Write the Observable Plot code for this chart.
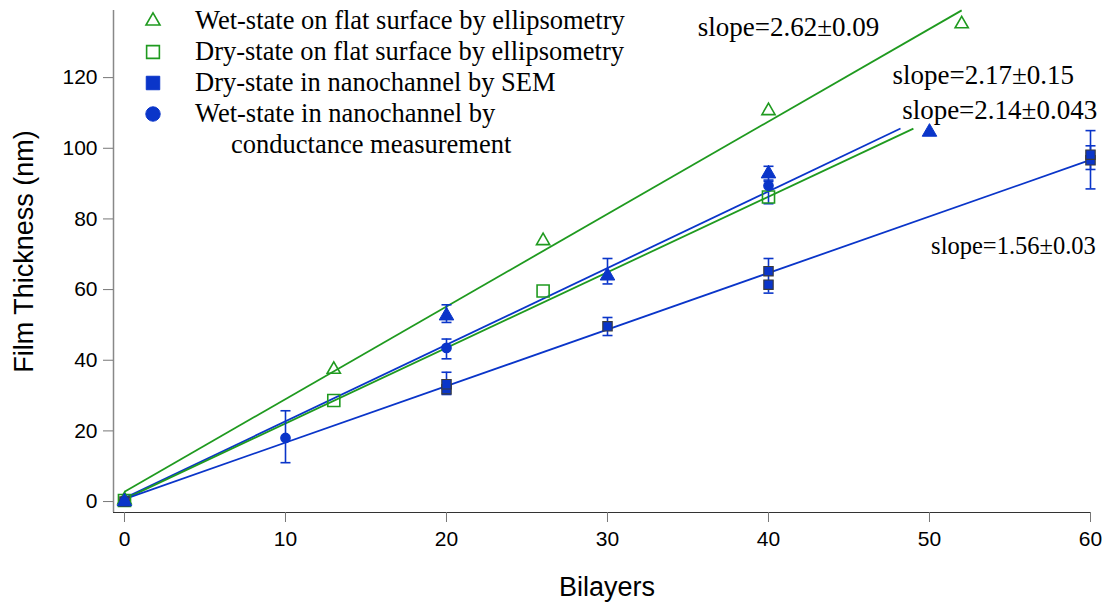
<!DOCTYPE html>
<html><head><meta charset="utf-8">
<script src="https://cdn.jsdelivr.net/npm/d3@7"></script>
<script src="https://cdn.jsdelivr.net/npm/@observablehq/plot@0.6"></script>
<style>body{margin:0;background:#fff} #chart{width:1116px;height:605px}</style>
</head><body><div id="chart"></div>
<script>
// ---- data ----
const xTicks = [0, 10, 20, 30, 40, 50, 60];
const yTicks = [0, 20, 40, 60, 80, 100, 120];

// Wet-state on flat surface by ellipsometry (open green triangles)
const wetFlatX = [0, 13, 26, 40, 52];
const wetFlatY = [0.5, 37.4, 73.8, 110.6, 135.2];
// Dry-state on flat surface by ellipsometry (open green squares)
const dryFlatX = [0, 13, 26, 40];
const dryFlatY = [0.3, 28.6, 59.6, 86.2];
// Dry-state in nanochannel by SEM (filled blue squares)
const semX = [0, 20, 20, 30, 40, 40, 60, 60];
const semY = [0, 31.8, 33.2, 49.6, 65.2, 61.4, 96.6, 98.2];
const semErrX = [20, 30, 40, 60, 60];
const semErrLo = [30.3, 47.0, 59.0, 88.5, 94.0];
const semErrHi = [36.6, 52.1, 68.8, 105.0, 100.7];
// Wet-state in nanochannel by conductance measurement (filled blue circles)
const wetNanoX = [10, 20, 40];
const wetNanoY = [18.0, 43.5, 89.4];
const wetNanoErrLo = [11.0, 40.4, 84.3];
const wetNanoErrHi = [25.7, 46.0, 91.0];
// Wet-state in nanochannel (filled blue triangles)
const wetNanoTriX = [0, 20, 30, 40, 50];
const wetNanoTriY = [0, 52.6, 63.9, 92.8, 104.6];
const wetNanoTriErrX = [20, 30, 40];
const wetNanoTriErrLo = [50.7, 61.6, 90.6];
const wetNanoTriErrHi = [55.7, 68.8, 94.9];

// Linear fits
const fitLabels = ["slope=2.62±0.09", "slope=2.17±0.15", "slope=2.14±0.043", "slope=1.56±0.03"];
const fitSlopes = [2.62, 2.17, 2.14, 1.60];
const fitIntercepts = [2.8, 1.0, 0.7, 0.7];
const fitXEnd = [52, 48.2, 49, 60];
const fitSeries = ["green", "blue", "green", "blue"];
// annotation anchor (data coords, text start / baseline)
const labelX = [35.6, 47.7, 48.3, 50.1];
const labelY = [131.9, 118.3, 108.4, 70.2];

const legendLabels = [
  "Wet-state on flat surface by ellipsometry",
  "Dry-state on flat surface by ellipsometry",
  "Dry-state in nanochannel by SEM",
  "Wet-state in nanochannel by",
  "conductance measurement"
];

// ---- build ----
const GREEN = "#1f9a1f", BLUE = "#0a35c9";
const SERIF = "'Liberation Serif', 'Times New Roman', serif";
const colorOf = s => s === "green" ? GREEN : BLUE;
const pts = (xs, ys) => xs.map((x, i) => ({x, y: ys[i]}));
const errs = (xs, lo, hi) => xs.map((x, i) => ({x, lo: lo[i], hi: hi[i]}));
const fitSegs = fitSlopes.map((s, i) => ({
  x1: 0, y1: fitIntercepts[i], x2: fitXEnd[i], y2: fitIntercepts[i] + s * fitXEnd[i], color: colorOf(fitSeries[i])
}));
const annots = fitLabels.map((t, i) => ({text: t, x: labelX[i], y: labelY[i]}));
const allErr = [...errs(semErrX, semErrLo, semErrHi), ...errs(wetNanoX, wetNanoErrLo, wetNanoErrHi), ...errs(wetNanoTriErrX, wetNanoTriErrLo, wetNanoTriErrHi)];

const hline = {draw(ctx, size) { const r = Math.sqrt(size / Math.PI); ctx.moveTo(-r, 0); ctx.lineTo(r, 0); }};

const X0 = -0.683, Y0 = -3.1, YTOP = 139;

const chart = Plot.plot({
  width: 1116, height: 605,
  marginLeft: 113, marginRight: 26, marginTop: 10, marginBottom: 93,
  x: {domain: [X0, 60]},
  y: {domain: [Y0, YTOP]},
  color: {type: "identity"},
  style: {fontFamily: "'Liberation Sans', Arial, sans-serif", background: "#fff", color: "#000"},
  marks: [
    Plot.ruleX([X0], {y1: Y0, y2: YTOP, stroke: "#888", strokeWidth: 1.5}),
    Plot.ruleY([Y0], {x1: X0, x2: 60, stroke: "#333", strokeWidth: 1.2}),
    Plot.axisX({ticks: xTicks, tickSize: 10, tickPadding: 9, fontSize: 21, stroke: "#777", label: null, tickFormat: d => d}),
    Plot.axisY({ticks: yTicks, tickSize: 10, tickPadding: 6, fontSize: 21, stroke: "#777", label: null, tickFormat: d => d}),
    Plot.text(["Bilayers"], {frameAnchor: "bottom", dx: 5, dy: 83, lineAnchor: "bottom", fontSize: 27, fill: "#000"}),
    Plot.text(["Film Thickness (nm)"], {frameAnchor: "left", dx: -89, dy: -10, rotate: -90, textAnchor: "middle", lineAnchor: "middle", fontSize: 27, fill: "#000"}),
    Plot.link(fitSegs, {x1: "x1", y1: "y1", x2: "x2", y2: "y2", stroke: "color", strokeWidth: 1.8}),
    Plot.ruleX(allErr, {x: "x", y1: "lo", y2: "hi", stroke: BLUE, strokeWidth: 1.6}),
    Plot.dot(allErr, {x: "x", y: "lo", symbol: hline, r: 5, stroke: BLUE, strokeWidth: 1.6}),
    Plot.dot(allErr, {x: "x", y: "hi", symbol: hline, r: 5, stroke: BLUE, strokeWidth: 1.6}),
    Plot.dot(pts(dryFlatX, dryFlatY), {x: "x", y: "y", symbol: "square", r: 6.8, stroke: GREEN, fill: "none", strokeWidth: 1.6}),
    Plot.dot(pts(wetFlatX, wetFlatY), {x: "x", y: "y", symbol: "triangle", r: 4.9, stroke: GREEN, fill: "none", strokeWidth: 1.6}),
    Plot.dot(pts(semX, semY), {x: "x", y: "y", symbol: "square", r: 5.3, fill: BLUE, stroke: "#3a3a3a", strokeWidth: 1.1}),
    Plot.dot(pts(wetNanoX, wetNanoY), {x: "x", y: "y", symbol: "circle", r: 4.6, fill: BLUE, stroke: BLUE}),
    Plot.dot(pts(wetNanoTriX, wetNanoTriY), {x: "x", y: "y", symbol: "triangle", r: 5.4, fill: BLUE, stroke: BLUE, strokeWidth: 1}),
    Plot.text(annots.slice(0, 3), {x: "x", y: "y", text: "text", textAnchor: "start", lineAnchor: "bottom", fontFamily: SERIF, fontSize: 27, fill: "#000"}),
    Plot.text(annots.slice(3), {x: "x", y: "y", text: "text", textAnchor: "start", lineAnchor: "bottom", fontFamily: SERIF, fontSize: 24.5, fill: "#000"})
  ]
});
document.getElementById("chart").appendChild(chart);

// ---- legend (inside the SVG, top-left) ----
const svg = d3.select(chart);
const lg = svg.append("g")
  .attr("font-family", SERIF)
  .attr("font-size", 26.5).attr("fill", "#000").attr("text-anchor", "start");
const legendSymbols = [
  {sym: d3.symbolTriangle, r: 5.2, fill: "none", stroke: GREEN, sw: 1.6},
  {sym: d3.symbolSquare, r: 7.2, fill: "none", stroke: GREEN, sw: 1.6},
  {sym: d3.symbolSquare, r: 7.6, fill: BLUE, stroke: BLUE, sw: 1},
  {sym: d3.symbolCircle, r: 7.2, fill: BLUE, stroke: BLUE, sw: 1}
];
const symY = [21, 52, 83, 114];
const textY = [29, 60, 91, 122, 153];
const textX = [195, 195, 195, 195, 231];
legendSymbols.forEach((s, i) => {
  lg.append("path")
    .attr("d", d3.symbol(s.sym, Math.PI * s.r * s.r)())
    .attr("transform", `translate(153,${symY[i]})`)
    .attr("fill", s.fill).attr("stroke", s.stroke).attr("stroke-width", s.sw);
});
legendLabels.forEach((t, i) => {
  lg.append("text").attr("x", textX[i]).attr("y", textY[i]).attr("text-anchor", "start").text(t);
});
</script>
</body></html>
